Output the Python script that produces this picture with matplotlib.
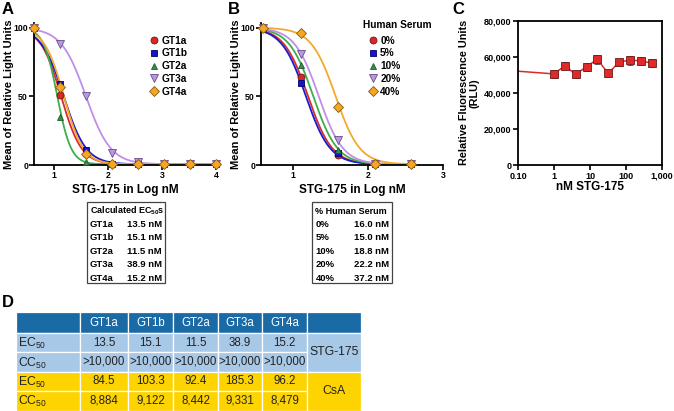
import numpy as np
import matplotlib
matplotlib.use('Agg')
import matplotlib.pyplot as plt
from matplotlib.patches import Rectangle

plt.rcParams['font.family'] = ['Liberation Sans', 'DejaVu Sans']
plt.rcParams['mathtext.fontset'] = 'custom'
plt.rcParams['mathtext.rm'] = 'Liberation Sans'
plt.rcParams['mathtext.bf'] = 'Liberation Sans:bold'

# ---- panel A data (genotypes) ----
log_conc_a = [0.63, 1.11, 1.59, 2.08, 2.56, 3.04, 3.52, 4.0]
genotypes = ['GT1a', 'GT1b', 'GT2a', 'GT3a', 'GT4a']
gt1a = [100, 51, 8, 1, 0.5, 0.5, 0.5, 0.5]
gt1b = [100, 59, 11, 1, 0.5, 0.5, 0.5, 0.5]
gt2a = [100, 35, 2, 1, 0.5, 0.5, 0.5, 0.5]
gt3a = [100, 88, 50, 9, 2, 0.5, 0.5, 0.5]
gt4a = [100, 57, 8, 1, 0.5, 0.5, 0.5, 0.5]
ec50_gt = [13.5, 15.1, 11.5, 38.9, 15.2]
hill_gt = [2.3, 2.1, 3.4, 1.9, 2.4]

# ---- panel B data (human serum) ----
log_conc_b = [0.60, 1.11, 1.61, 2.10, 2.58]
serum = ['0%', '5%', '10%', '20%', '40%']
hs0 = [100, 64, 7, 0.5, 0.5]
hs5 = [100, 60, 9, 0.5, 0.5]
hs10 = [100, 73, 11, 0.5, 0.5]
hs20 = [100, 81, 18, 0.5, 0.5]
hs40 = [100, 96, 42, 0.5, 0.5]
ec50_hs = [16.0, 15.0, 18.8, 22.2, 37.2]
hill_hs = [2.7, 2.7, 2.7, 2.7, 2.7]

# ---- panel C data (cytotoxicity) ----
conc_c = [1, 2, 4, 8, 16, 32, 64, 128, 256, 512]
rfu_c = [50500, 55000, 50300, 54500, 58600, 50800, 57000, 58200, 57700, 56500]
err_c = [2000, 2000, 2000, 2200, 2500, 1800, 2000, 2500, 2000, 2200]
ctrl_c = 52000  # value at the left edge (no drug)

# ---- panel D table ----
table_cols = ['GT1a', 'GT1b', 'GT2a', 'GT3a', 'GT4a']
stg_ec50 = ['13.5', '15.1', '11.5', '38.9', '15.2']
stg_cc50 = ['>10,000', '>10,000', '>10,000', '>10,000', '>10,000']
csa_ec50 = ['84.5', '103.3', '92.4', '185.3', '96.2']
csa_cc50 = ['8,884', '9,122', '8,442', '9,331', '8,479']

curve_cols = ['#d92b2b', '#1a1ad0', '#3bb04a', '#c08ee8', '#f5a830']
mark_cols = ['#d62828', '#1515c8', '#3d8c4f', '#b899dd', '#f5a623']
edge_cols = ['#7a1515', '#000070', '#1e5a2a', '#6a4a90', '#8a5a10']
markers = ['o', 's', '^', 'v', 'D']
msizes = [5, 5, 5, 5.5, 5]

W, H = 674, 411
fig = plt.figure(figsize=(6.74, 4.11), dpi=100)


def fx(px):
    return px / W


def fy(py):
    return 1 - py / H


def hill(x, ec50, h):
    return 0.5 + 99.5 / (1 + 10 ** (h * (x - np.log10(ec50))))


def style_dose_axes(ax, xlim, xticks):
    ax.set_xlim(*xlim)
    ax.set_ylim(0, 103.4)
    ax.set_xticks(xticks)
    ax.set_yticks([0, 50, 100])
    ax.spines['top'].set_visible(False)
    ax.spines['right'].set_visible(False)
    for s in ['left', 'bottom']:
        ax.spines[s].set_linewidth(1.3)
    ax.tick_params(direction='out', length=3.5, width=1.2, labelsize=6.3, pad=0.8)
    for lab in ax.get_xticklabels() + ax.get_yticklabels():
        lab.set_fontweight('bold')
    ax.set_xlabel('STG-175 in Log nM', fontsize=8.5, fontweight='bold', labelpad=3)
    ax.set_ylabel('Mean of Relative Light Units', fontsize=8, fontweight='bold')
    ax.yaxis.set_label_coords(-0.11, 0.5)
    ax.patch.set_alpha(0)


# ---------------- Panel A ----------------
axA = fig.add_axes([fx(34), fy(165), fx(182), (165 - 23) / H])
xs = np.linspace(0.63, 4.0, 300)
series_a = [gt1a, gt1b, gt2a, gt3a, gt4a]
for i in range(5):
    axA.plot(xs, hill(xs, ec50_gt[i], hill_gt[i]), color=curve_cols[i], lw=1.3, zorder=2)
for i in range(5):
    axA.plot(log_conc_a, series_a[i], ls='none', marker=markers[i], ms=msizes[i],
             mfc=mark_cols[i], mec=edge_cols[i], mew=0.6, label=genotypes[i],
             zorder=3, clip_on=False)
style_dose_axes(axA, (0.63, 4.0), [1, 2, 3, 4])
legA = axA.legend(loc='upper left', bbox_to_anchor=(fx(150), fy(35.5)),
                  bbox_transform=fig.transFigure, frameon=False, fontsize=7.3,
                  handlelength=0.8, handletextpad=0.3, labelspacing=0.28,
                  borderpad=0, borderaxespad=0)
for t in legA.get_texts():
    t.set_fontweight('bold')

# ---------------- Panel B ----------------
axB = fig.add_axes([fx(261), fy(165), fx(182), (165 - 23) / H])
xs = np.linspace(0.60, 2.6, 300)
series_b = [hs0, hs5, hs10, hs20, hs40]
for i in range(5):
    axB.plot(xs, hill(xs, ec50_hs[i], hill_hs[i]), color=curve_cols[i], lw=1.3, zorder=2)
for i in range(5):
    axB.plot(log_conc_b, series_b[i], ls='none', marker=markers[i], ms=msizes[i],
             mfc=mark_cols[i], mec=edge_cols[i], mew=0.6, label=serum[i],
             zorder=3, clip_on=False)
style_dose_axes(axB, (0.58, 3.0), [1, 2, 3])
fig.text(fx(363), fy(25), 'Human Serum', fontsize=7.3, fontweight='bold',
         ha='left', va='center')
legB = axB.legend(loc='upper left', bbox_to_anchor=(fx(369), fy(35.5)),
                  bbox_transform=fig.transFigure, frameon=False, fontsize=7.3,
                  handlelength=0.8, handletextpad=0.3, labelspacing=0.28,
                  borderpad=0, borderaxespad=0)
for t in legB.get_texts():
    t.set_fontweight('bold')

# ---------------- Panel C ----------------
axC = fig.add_axes([fx(518), fy(165), fx(144), (165 - 20.7) / H])
axC.set_xscale('log')
axC.plot([0.1] + conc_c, [ctrl_c] + rfu_c, color='#d92b2b', lw=1.1, zorder=2)
axC.errorbar(conc_c, rfu_c, yerr=err_c, fmt='s', ms=5.5, mfc='#e02a2a',
             mec='#6a1a1a', mew=0.6, ecolor='#444444', elinewidth=1,
             capsize=2.5, capthick=1, zorder=3)
axC.set_xlim(0.1, 1000)
axC.set_ylim(0, 80000)
axC.set_xticks([0.1, 1, 10, 100, 1000])
axC.set_xticklabels(['0.10', '1', '10', '100', '1,000'])
axC.xaxis.set_minor_locator(matplotlib.ticker.NullLocator())
axC.set_yticks([0, 20000, 40000, 60000, 80000])
axC.set_yticklabels(['0', '20,000', '40,000', '60,000', '80,000'])
for s in axC.spines.values():
    s.set_linewidth(1.3)
axC.tick_params(direction='out', length=3.5, width=1.2, labelsize=6.5, pad=1.2)
for lab in axC.get_xticklabels() + axC.get_yticklabels():
    lab.set_fontweight('bold')
axC.set_xlabel('nM STG-175', fontsize=8.5, fontweight='bold', labelpad=0)
axC.set_ylabel('Relative Fluorescence Units\n(RLU)', fontsize=7.8,
               fontweight='bold', labelpad=3, linespacing=1.1)

# ---------------- boxed EC50 lists ----------------
def boxed_list(left, right, top, bottom, header, names, values):
    fig.patches.append(Rectangle((fx(left), fy(bottom)), fx(right - left),
                                 (bottom - top) / H, transform=fig.transFigure,
                                 fill=False, ec='#444444', lw=0.9))
    fig.text(fx(left + 3), fy(top + 9), header, fontsize=6.5, fontweight='bold',
             ha='left', va='center')
    for k in range(len(names)):
        yy = fy(top + 22.5 + 13.4 * k)
        fig.text(fx(left + 3.5), yy, names[k], fontsize=6.8, fontweight='bold',
                 ha='left', va='center')
        fig.text(fx(right - 3), yy, values[k], fontsize=6.8, fontweight='bold',
                 ha='right', va='center')


boxed_list(86.5, 165, 202, 283, r'Calculated EC$_{\mathbf{50}}$s', genotypes,
           ['%.1f nM' % v for v in ec50_gt])
boxed_list(312, 392, 202, 283, '% Human Serum', serum,
           ['%.1f nM' % v for v in ec50_hs])

# ---------------- Panel D table ----------------
col_w = [64, 48, 45, 45, 44, 45, 54]
row_h = [20.5, 19.4, 19.4, 19.4, 19.4]
row_fc = ['#1a6aa6', '#a8c8e8', '#a8c8e8', '#fdd400', '#fdd400']
row_lab = ['', 'EC$_{50}$', 'CC$_{50}$', 'EC$_{50}$', 'CC$_{50}$']
row_vals = [table_cols, stg_ec50, stg_cc50, csa_ec50, csa_cc50]
col_x = np.concatenate([[0], np.cumsum(col_w)])
row_y = np.concatenate([[0], np.cumsum(row_h)])

axD = fig.add_axes([fx(16), fy(410.5), fx(col_x[-1]), row_y[-1] / H])
axD.set_xlim(0, col_x[-1])
axD.set_ylim(row_y[-1], 0)
axD.axis('off')
for r in range(5):
    for c in range(6):
        axD.add_patch(Rectangle((col_x[c], row_y[r]), col_w[c], row_h[r],
                                fc=row_fc[r], ec='white', lw=0.9))
    yc = (row_y[r] + row_y[r + 1]) / 2
    txtcol = 'white' if r == 0 else '#222222'
    if row_lab[r]:
        axD.text(col_x[0] + 2, yc + 1, row_lab[r], fontsize=8.8, color=txtcol,
                 ha='left', va='center')
    for c in range(5):
        axD.text((col_x[c + 1] + col_x[c + 2]) / 2, yc, row_vals[r][c],
                 fontsize=8.3, color=txtcol, ha='center', va='center')
# merged compound cells
axD.add_patch(Rectangle((col_x[6], row_y[0]), col_w[6], row_h[0],
                        fc=row_fc[0], ec='white', lw=0.9))
for r0, name in [(1, 'STG-175'), (3, 'CsA')]:
    axD.add_patch(Rectangle((col_x[6], row_y[r0]), col_w[6],
                            row_h[r0] + row_h[r0 + 1], fc=row_fc[r0],
                            ec='white', lw=0.9))
    axD.text((col_x[6] + col_x[7]) / 2, row_y[r0 + 1], name, fontsize=8.8,
             color='#222222', ha='center', va='center')

# panel letters
for letter, (px, py) in zip('ABCD', [(2, 9), (228, 9), (452, 9), (2, 302)]):
    fig.text(fx(px), fy(py), letter, fontsize=12, fontweight='bold',
             ha='left', va='center')

fig.savefig('out.png', dpi=100)
